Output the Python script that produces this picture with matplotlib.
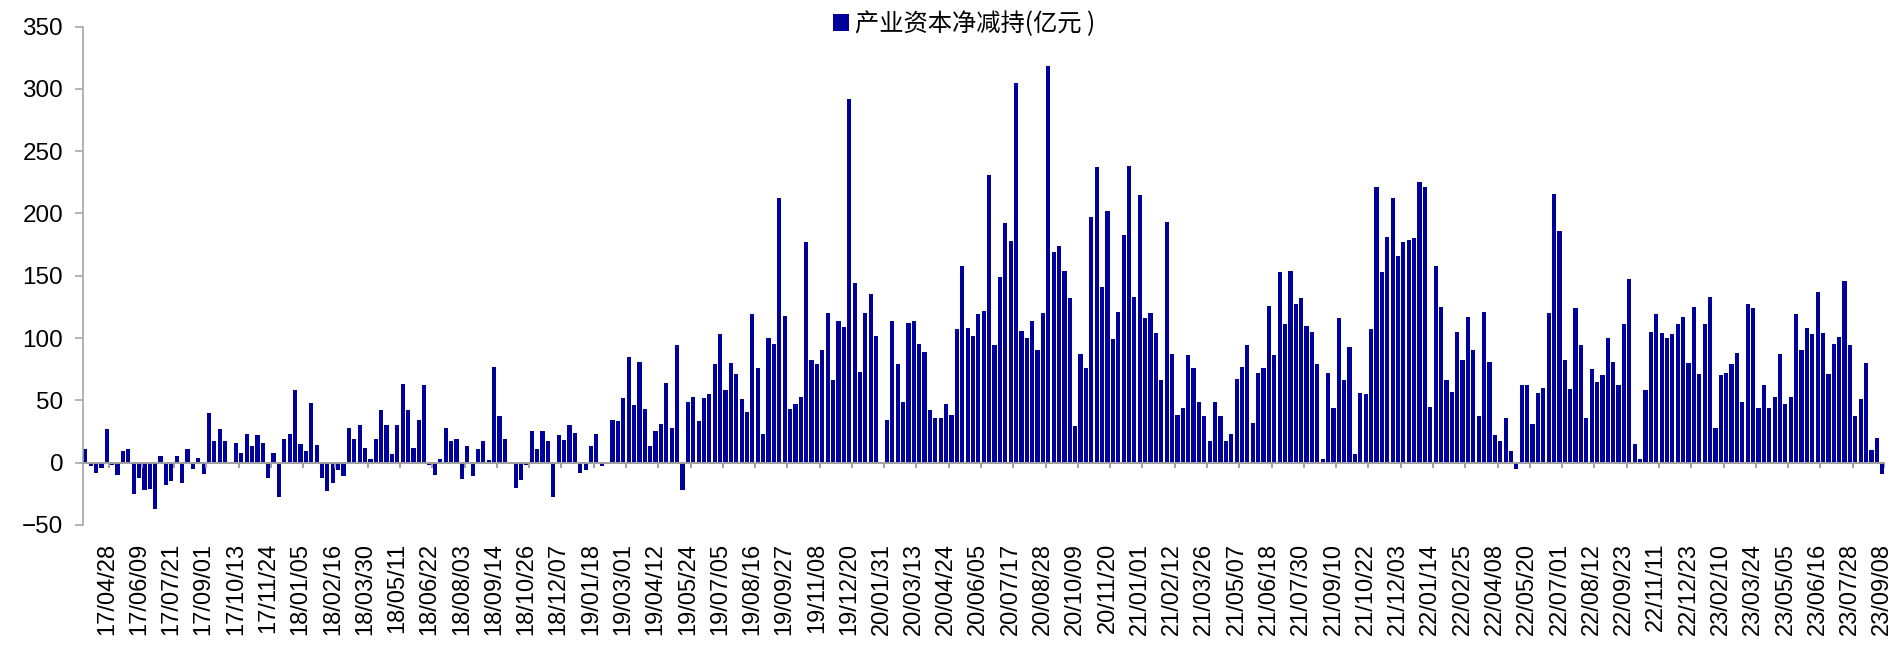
import numpy as np
import matplotlib.pyplot as plt

plt.rcParams['font.family'] = ['Liberation Sans', 'Noto Sans CJK SC', 'DejaVu Sans']

# weekly net reduction by industrial capital (100 million yuan)
values = [
    11, -3, -8, -4, 27, -2, -10, 9, 11, -25, -12, -22, -21, -37, 5, -18, -15, 5, -16, 11,
    -5, 4, -9, 40, 17, 27, 17, 0, 16, 8, 23, 13, 22, 16, -12, 8, -28, 19, 23, 58,
    15, 9, 48, 14, -12, -23, -16, -6, -11, 28, 19, 30, 12, 3, 19, 42, 30, 7, 30, 63,
    42, 12, 34, 62, -2, -10, 3, 28, 17, 19, -13, 13, -11, 11, 17, 2, 77, 37, 19, 0,
    -20, -14, -2, 25, 11, 25, 17, -28, 22, 18, 30, 24, -8, -6, 13, 23, -3, 0, 34, 33,
    52, 85, 46, 81, 43, 13, 25, 31, 64, 28, 94, -22, 49, 53, 33, 52, 55, 79, 103, 58,
    80, 71, 51, 41, 119, 76, 23, 100, 95, 212, 118, 43, 47, 53, 177, 82, 79, 90, 120, 66,
    114, 109, 292, 144, 73, 120, 135, 102, 0, 34, 114, 79, 49, 112, 114, 95, 89, 42, 36, 36,
    47, 38, 107, 158, 108, 102, 119, 122, 231, 94, 149, 192, 178, 305, 106, 100, 114, 90, 120, 318,
    169, 174, 154, 132, 29, 87, 76, 197, 237, 141, 202, 99, 121, 183, 238, 133, 215, 116, 120, 104,
    66, 193, 87, 38, 44, 86, 76, 49, 37, 17, 49, 37, 17, 23, 67, 77, 94, 32, 72, 76,
    126, 86, 153, 111, 154, 127, 132, 110, 105, 79, 3, 72, 44, 116, 66, 93, 7, 56, 55, 107,
    221, 153, 181, 212, 166, 177, 179, 180, 225, 221, 45, 158, 125, 66, 57, 105, 82, 117, 90, 37,
    121, 81, 22, 17, 36, 9, -5, 62, 62, 31, 56, 60, 120, 216, 186, 82, 59, 124, 94, 36,
    75, 65, 70, 100, 81, 62, 111, 147, 15, 3, 58, 105, 119, 104, 100, 103, 111, 117, 80, 125,
    71, 111, 133, 28, 70, 72, 79, 88, 49, 127, 124, 44, 62, 44, 53, 87, 47, 53, 119, 90,
    108, 103, 137, 104, 71, 95, 101, 146, 94, 37, 51, 80, 10, 20, -9,
]

# dates shown on the axis (every 6th week, starting at the 5th bar)
tick_labels = [
    "17/04/28", "17/06/09", "17/07/21", "17/09/01", "17/10/13", "17/11/24",
    "18/01/05", "18/02/16", "18/03/30", "18/05/11", "18/06/22", "18/08/03",
    "18/09/14", "18/10/26", "18/12/07", "19/01/18", "19/03/01", "19/04/12",
    "19/05/24", "19/07/05", "19/08/16", "19/09/27", "19/11/08", "19/12/20",
    "20/01/31", "20/03/13", "20/04/24", "20/06/05", "20/07/17", "20/08/28",
    "20/10/09", "20/11/20", "21/01/01", "21/02/12", "21/03/26", "21/05/07",
    "21/06/18", "21/07/30", "21/09/10", "21/10/22", "21/12/03", "22/01/14",
    "22/02/25", "22/04/08", "22/05/20", "22/07/01", "22/08/12", "22/09/23",
    "22/11/11", "22/12/23", "23/02/10", "23/03/24", "23/05/05", "23/06/16",
    "23/07/28", "23/09/08",
]

series_name = "产业资本净减持(亿元 )"

x = np.arange(len(values))
tick_pos = np.arange(len(values) - 1 - 6 * (len(tick_labels) - 1), len(values), 6)

fig = plt.figure(figsize=(18.94, 6.48), dpi=100)
ax = fig.add_axes([0.0436, 0.190, 0.9516, 0.769])

bars = ax.bar(x, values, width=0.78, color="#00009c", label=series_name)

ax.set_xlim(-0.5, len(values) - 0.5)
ax.set_ylim(-50, 350)
ax.set_yticks(range(-50, 351, 50))

ax.set_xticks(tick_pos)
ax.set_xticklabels(tick_labels, rotation=90, fontsize=17)
ax.tick_params(axis="x", length=0, pad=13)
ax.tick_params(axis="y", labelsize=17.5, length=6, width=1.2, color="#a6a6a6", pad=8)

# zero line works as the category axis, with short tick marks
ax.axhline(0, color="#a0a0a0", linewidth=1.4, zorder=3)
ax.vlines(tick_pos + 0.5, -4, 0, color="#a0a0a0", linewidth=1.4, zorder=3)

for s in ["top", "right", "bottom"]:
    ax.spines[s].set_visible(False)
ax.spines["left"].set_color("#a6a6a6")
ax.spines["left"].set_linewidth(1.2)

fig.legend(handles=[bars], labels=[series_name], loc="center",
           bbox_to_anchor=(0.509, 0.963), frameon=False, handlelength=0.65,
           handleheight=0.65, handletextpad=0.25,
           prop={"family": ["Noto Sans CJK SC", "DejaVu Sans"], "size": 17.5})

fig.savefig("out.png", dpi=100)
